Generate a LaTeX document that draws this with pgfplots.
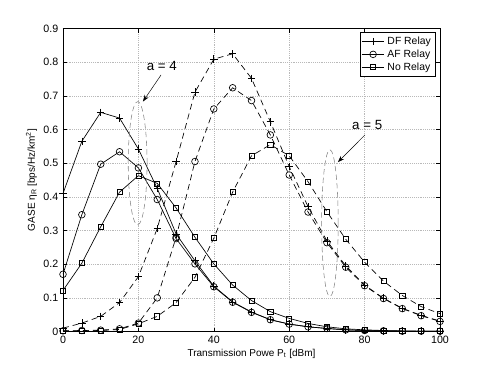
\documentclass[border=0pt]{standalone}
\usepackage{fontspec}
\setmainfont{Liberation Sans}
\usepackage{pgfplots}
\pgfplotsset{compat=1.18}
\usetikzlibrary{arrows.meta}

\begin{document}
\begin{tikzpicture}
\begin{axis}[
  scale only axis,
  width=282.75pt, height=227.25pt,
  xmin=0, xmax=100, ymin=0, ymax=0.9,
  xtick={0,20,...,100}, ytick={0,0.1,...,0.9},
  yticklabels={0,0.1,0.2,0.3,0.4,0.5,0.6,0.7,0.8,0.9},
  /pgf/number format/assume math mode=true,
  tick label style={font=\fontsize{8}{9.5}\selectfont},
  label style={font=\fontsize{7.5}{9}\selectfont},
  xlabel={Transmission Powe P\textsubscript{t} [dBm]},
  ylabel={GASE η\textsubscript{R} [bps/Hz/km\textsuperscript{2}]},
  xlabel style={yshift=3pt},
  ylabel style={yshift=-2pt},
  grid=major,
  major grid style={gray!55, densely dotted, line width=0.3pt},
  tick style={black, line width=0.4pt},
  major tick length=3pt,
  legend style={at={(0.987,0.987)}, anchor=north east, font=\fontsize{7.8}{8.5}\selectfont,
    draw=black, line width=0.4pt, inner sep=1pt, row sep=-1.5pt},
  legend cell align=left,
  every axis plot/.append style={black, line width=0.5pt},
  mdash/.style={dash pattern=on 4.5pt off 3pt},
]
% a = 4 (solid)
\addplot[mark=+, mark size=2.8pt] coordinates {
(0,0.41)(5,0.565)(10,0.651)(15,0.634)(20,0.542)(25,0.425)(30,0.29)(35,0.21)(40,0.135)(45,0.088)(50,0.058)(55,0.035)(60,0.022)(65,0.014)(70,0.009)(75,0.005)(80,0.003)(85,0.002)(90,0.001)(95,0.001)(100,0.001)};
\addlegendentry{DF Relay}
\addplot[mark=o, mark size=2.5pt] coordinates {
(0,0.17)(5,0.347)(10,0.497)(15,0.534)(20,0.486)(25,0.392)(30,0.276)(35,0.201)(40,0.133)(45,0.087)(50,0.057)(55,0.035)(60,0.022)(65,0.014)(70,0.009)(75,0.005)(80,0.003)(85,0.002)(90,0.001)(95,0.001)(100,0.001)};
\addlegendentry{AF Relay}
\addplot[mark=square, mark size=1.9pt] coordinates {
(0,0.122)(5,0.203)(10,0.311)(15,0.414)(20,0.463)(25,0.44)(30,0.367)(35,0.28)(40,0.201)(45,0.138)(50,0.092)(55,0.059)(60,0.039)(65,0.024)(70,0.014)(75,0.008)(80,0.005)(85,0.003)(90,0.002)(95,0.001)(100,0.001)};
\addlegendentry{No Relay}
% a = 5 (dashed)
\addplot[mdash, mark=+, mark size=2.8pt, mark options={solid}] coordinates {
(0,0.01)(5,0.025)(10,0.045)(15,0.086)(20,0.163)(25,0.306)(30,0.505)(35,0.711)(40,0.809)(45,0.825)(50,0.752)(55,0.623)(60,0.49)(65,0.371)(70,0.269)(75,0.195)(80,0.138)(85,0.099)(90,0.069)(95,0.048)(100,0.031)};
\addplot[mdash, mark=o, mark size=2.5pt, mark options={solid}] coordinates {
(0,0.002)(5,0.003)(10,0.004)(15,0.008)(20,0.025)(25,0.1)(30,0.28)(35,0.505)(40,0.661)(45,0.724)(50,0.686)(55,0.584)(60,0.465)(65,0.355)(70,0.264)(75,0.191)(80,0.136)(85,0.098)(90,0.068)(95,0.047)(100,0.03)};
\addplot[mdash, mark=square, mark size=1.9pt, mark options={solid}] coordinates {
(0,0.002)(5,0.002)(10,0.003)(15,0.006)(20,0.023)(25,0.045)(30,0.086)(35,0.161)(40,0.277)(45,0.414)(50,0.522)(55,0.555)(60,0.522)(65,0.445)(70,0.356)(75,0.274)(80,0.206)(85,0.15)(90,0.107)(95,0.074)(100,0.053)};
% annotations
\draw[gray, dash pattern=on 4pt off 2.5pt, line width=0.4pt] (axis cs:19.8,0.5) ellipse [x radius=2.5, y radius=0.183];
\draw[gray, dash pattern=on 4pt off 2.5pt, line width=0.4pt] (axis cs:70.8,0.322) ellipse [x radius=2.2, y radius=0.218];
\node[font=\fontsize{10}{11}\selectfont] at (axis cs:26.2,0.79) {a = 4};
\node[font=\fontsize{10}{11}\selectfont] at (axis cs:80.7,0.614) {a = 5};
\draw[-{Stealth[length=5pt,width=3.5pt]}, line width=0.35pt] (axis cs:26.0,0.762) -- (axis cs:21.2,0.683);
\draw[-{Stealth[length=5pt,width=3.5pt]}, line width=0.35pt] (axis cs:80.1,0.584) -- (axis cs:72.9,0.503);
\end{axis}
\pgfresetboundingbox
\path[use as bounding box] ([shift={(-47.25pt,-31pt)}]current axis.south west) rectangle ([shift={(33.75pt,21.4pt)}]current axis.north east);
\end{tikzpicture}
\end{document}
